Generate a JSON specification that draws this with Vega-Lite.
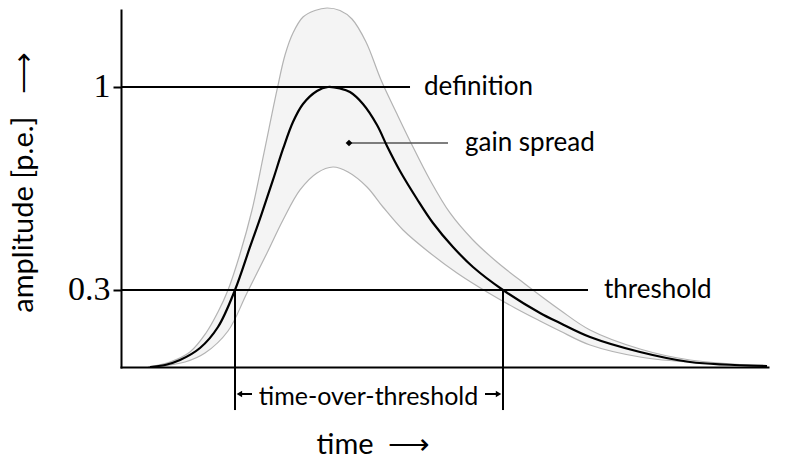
{
  "$schema": "https://vega.github.io/schema/vega-lite/v6.json",
  "width": 647,
  "height": 357,
  "autosize": {"type": "none"},
  "padding": {"left": 121, "top": 10, "right": 19, "bottom": 94},
  "background": "white",
  "config": {"view": {"stroke": null}, "font": "Lato"},
  "datasets": {
    "curves": [
      {"series": "upper", "t": 4.17, "amp": 0},
      {"series": "upper", "t": 7.57, "amp": 0.0234},
      {"series": "upper", "t": 10.66, "amp": 0.0652},
      {"series": "upper", "t": 13.14, "amp": 0.1399},
      {"series": "upper", "t": 14.99, "amp": 0.2191},
      {"series": "upper", "t": 16.54, "amp": 0.3},
      {"series": "upper", "t": 18.39, "amp": 0.429},
      {"series": "upper", "t": 20.25, "amp": 0.5829},
      {"series": "upper", "t": 22.1, "amp": 0.7782},
      {"series": "upper", "t": 24.11, "amp": 0.99},
      {"series": "upper", "t": 25.35, "amp": 1.1062},
      {"series": "upper", "t": 26.58, "amp": 1.1788},
      {"series": "upper", "t": 28.13, "amp": 1.2314},
      {"series": "upper", "t": 29.98, "amp": 1.2527},
      {"series": "upper", "t": 31.84, "amp": 1.2609},
      {"series": "upper", "t": 33.85, "amp": 1.2527},
      {"series": "upper", "t": 35.7, "amp": 1.2248},
      {"series": "upper", "t": 37.87, "amp": 1.1491},
      {"series": "upper", "t": 40.19, "amp": 1.0233},
      {"series": "upper", "t": 42.66, "amp": 0.9097},
      {"series": "upper", "t": 44.98, "amp": 0.8053},
      {"series": "upper", "t": 47.76, "amp": 0.6863},
      {"series": "upper", "t": 50.85, "amp": 0.5726},
      {"series": "upper", "t": 54.4, "amp": 0.4783},
      {"series": "upper", "t": 58.11, "amp": 0.4005},
      {"series": "upper", "t": 62.44, "amp": 0.3217},
      {"series": "upper", "t": 67.85, "amp": 0.2266},
      {"series": "upper", "t": 72.49, "amp": 0.1514},
      {"series": "upper", "t": 80.22, "amp": 0.0773},
      {"series": "upper", "t": 87.94, "amp": 0.032},
      {"series": "upper", "t": 99.85, "amp": 0.0052},
      {"series": "lower", "t": 5.26, "amp": 0},
      {"series": "lower", "t": 9.89, "amp": 0.0234},
      {"series": "lower", "t": 12.98, "amp": 0.0611},
      {"series": "lower", "t": 16.54, "amp": 0.1476},
      {"series": "lower", "t": 19.47, "amp": 0.289},
      {"series": "lower", "t": 22.57, "amp": 0.4325},
      {"series": "lower", "t": 25.04, "amp": 0.5482},
      {"series": "lower", "t": 27.67, "amp": 0.652},
      {"series": "lower", "t": 30.29, "amp": 0.7102},
      {"series": "lower", "t": 32.77, "amp": 0.7306},
      {"series": "lower", "t": 35.09, "amp": 0.7136},
      {"series": "lower", "t": 38.02, "amp": 0.6623},
      {"series": "lower", "t": 40.49, "amp": 0.5933},
      {"series": "lower", "t": 43.59, "amp": 0.5134},
      {"series": "lower", "t": 47.76, "amp": 0.4325},
      {"series": "lower", "t": 51.93, "amp": 0.3612},
      {"series": "lower", "t": 56.57, "amp": 0.2926},
      {"series": "lower", "t": 60.9, "amp": 0.234},
      {"series": "lower", "t": 64.76, "amp": 0.1855},
      {"series": "lower", "t": 67.85, "amp": 0.1476},
      {"series": "lower", "t": 72.49, "amp": 0.0932},
      {"series": "lower", "t": 80.22, "amp": 0.0447},
      {"series": "lower", "t": 89.49, "amp": 0.019},
      {"series": "lower", "t": 99.85, "amp": 0.0052},
      {"series": "middle", "t": 4.48, "amp": 0},
      {"series": "middle", "t": 6.8, "amp": 0.01},
      {"series": "middle", "t": 9.12, "amp": 0.032},
      {"series": "middle", "t": 12.21, "amp": 0.0813},
      {"series": "middle", "t": 14.99, "amp": 0.1628},
      {"series": "middle", "t": 17.62, "amp": 0.3},
      {"series": "middle", "t": 19.94, "amp": 0.4537},
      {"series": "middle", "t": 21.79, "amp": 0.5726},
      {"series": "middle", "t": 23.49, "amp": 0.6863},
      {"series": "middle", "t": 25.04, "amp": 0.7918},
      {"series": "middle", "t": 26.58, "amp": 0.8829},
      {"series": "middle", "t": 28.13, "amp": 0.9433},
      {"series": "middle", "t": 30.29, "amp": 0.9867},
      {"series": "middle", "t": 31.99, "amp": 1.0},
      {"series": "middle", "t": 33.85, "amp": 0.995},
      {"series": "middle", "t": 35.39, "amp": 0.9833},
      {"series": "middle", "t": 37.4, "amp": 0.9433},
      {"series": "middle", "t": 39.57, "amp": 0.8728},
      {"series": "middle", "t": 41.11, "amp": 0.802},
      {"series": "middle", "t": 43.12, "amp": 0.717},
      {"series": "middle", "t": 45.75, "amp": 0.621},
      {"series": "middle", "t": 48.22, "amp": 0.5378},
      {"series": "middle", "t": 51.31, "amp": 0.4537},
      {"series": "middle", "t": 54.4, "amp": 0.3828},
      {"series": "middle", "t": 59.04, "amp": 0.3},
      {"series": "middle", "t": 64.76, "amp": 0.2154},
      {"series": "middle", "t": 67.85, "amp": 0.1778},
      {"series": "middle", "t": 72.49, "amp": 0.1244},
      {"series": "middle", "t": 80.22, "amp": 0.0652},
      {"series": "middle", "t": 87.94, "amp": 0.0234},
      {"series": "middle", "t": 99.85, "amp": 0.0052}
    ],
    "segments": [
      {"name": "definition", "t": 0, "amp": 1, "t2": 44.67, "amp2": 1},
      {"name": "threshold", "t": 0, "amp": 0.3, "t2": 72.18, "amp2": 0.3},
      {"name": "tot-start", "t": 17.62, "amp": 0.3, "t2": 17.62, "amp2": -0.1743},
      {"name": "tot-end", "t": 59.04, "amp": 0.3, "t2": 59.04, "amp2": -0.1743},
      {"name": "tot-arrow-left", "t": 18.2, "amp": -0.1128, "t2": 20.25, "amp2": -0.1128},
      {"name": "tot-arrow-right", "t": 56.26, "amp": -0.1128, "t2": 58.4, "amp2": -0.1128},
      {"name": "gain", "t": 35.24, "amp": 0.812, "t2": 50.54, "amp2": 0.812}
    ],
    "heads": [
      {"dir": "left", "t": 18.3, "amp": -0.1128},
      {"dir": "right", "t": 58.35, "amp": -0.1128}
    ],
    "markers": [
      {"name": "gain spread", "t": 35.24, "amp": 0.812}
    ],
    "labels": [
      {"label": "definition", "kind": "side", "t": 46.83, "amp": 1},
      {"label": "gain spread", "kind": "side", "t": 53.17, "amp": 0.812},
      {"label": "threshold", "kind": "side", "t": 74.65, "amp": 0.3},
      {"label": "time-over-threshold", "kind": "below", "t": 38.25, "amp": -0.1244}
    ]
  },
  "encoding": {
    "x": {
      "field": "t",
      "type": "quantitative",
      "scale": {"domain": [0, 100], "nice": false, "zero": false},
      "axis": {
        "title": "time\u00a0\u00a0⟶",
        "labels": false,
        "ticks": false,
        "grid": false,
        "domainColor": "black",
        "domainWidth": 2,
        "domainCap": "square",
        "titleFont": "Lato",
        "titleFontSize": 29,
        "titleFontWeight": "normal",
        "titleColor": "black",
        "titleX": 252,
        "titleY": 86,
        "titleAlign": "center",
        "titleBaseline": "alphabetic",
        "zindex": 1
      }
    },
    "y": {
      "field": "amp",
      "type": "quantitative",
      "scale": {"type": "pow", "exponent": 1.072, "domain": [0, 1.2543], "nice": false},
      "axis": {
        "values": [0.3, 1],
        "format": "~g",
        "labelFont": "Liberation Serif",
        "labelFontSize": 34,
        "labelColor": "black",
        "labelPadding": 3,
        "tickSize": 8,
        "tickWidth": 2,
        "tickColor": "black",
        "domainColor": "black",
        "domainWidth": 2,
        "domainCap": "square",
        "grid": false,
        "title": "amplitude [p.e.]\u00a0\u00a0\u00a0⟶",
        "titleFont": "Lato",
        "titleFontSize": 29,
        "titleFontWeight": "normal",
        "titleColor": "black",
        "titleAngle": -90,
        "titleX": -98,
        "titleY": 172,
        "titleAlign": "center",
        "titleBaseline": "middle",
        "zindex": 1
      }
    }
  },
  "layer": [
    {
      "data": {"name": "curves"},
      "transform": [{"filter": "datum.series === 'upper'"}],
      "mark": {"type": "area", "interpolate": "catmull-rom", "color": "#efefef", "line": {"color": "#b3b3b3", "strokeWidth": 1.2}}
    },
    {
      "data": {"name": "curves"},
      "transform": [{"filter": "datum.series === 'lower'"}],
      "mark": {"type": "area", "interpolate": "catmull-rom", "color": "white", "opacity": 1, "line": {"color": "#b3b3b3", "strokeWidth": 1.2}}
    },
    {
      "data": {"name": "segments"},
      "transform": [{"filter": "datum.name !== 'gain'"}],
      "mark": {"type": "rule", "color": "black", "strokeWidth": 2},
      "encoding": {"x2": {"field": "t2"}, "y2": {"field": "amp2"}}
    },
    {
      "data": {"name": "segments"},
      "transform": [{"filter": "datum.name === 'gain'"}],
      "mark": {"type": "rule", "color": "#555555", "strokeWidth": 1.5},
      "encoding": {"x2": {"field": "t2"}, "y2": {"field": "amp2"}}
    },
    {
      "data": {"name": "curves"},
      "transform": [{"filter": "datum.series === 'middle'"}],
      "mark": {"type": "line", "interpolate": "catmull-rom", "color": "black", "strokeWidth": 2.2}
    },
    {
      "data": {"name": "markers"},
      "mark": {"type": "point", "shape": "diamond", "filled": true, "color": "black", "opacity": 1, "size": 45}
    },
    {
      "data": {"name": "heads"},
      "mark": {"type": "point", "filled": true, "color": "black", "opacity": 1, "size": 40},
      "encoding": {
        "shape": {"field": "dir", "type": "nominal", "scale": {"domain": ["left", "right"], "range": ["triangle-left", "triangle-right"]}, "legend": null}
      }
    },
    {
      "data": {"name": "labels"},
      "transform": [{"filter": "datum.kind === 'side'"}],
      "mark": {"type": "text", "align": "left", "baseline": "middle", "font": "Lato", "fontSize": 26, "color": "black"},
      "encoding": {"text": {"field": "label"}}
    },
    {
      "data": {"name": "labels"},
      "transform": [{"filter": "datum.kind === 'below'"}],
      "mark": {"type": "text", "align": "center", "baseline": "middle", "font": "Lato", "fontSize": 25, "color": "black"},
      "encoding": {"text": {"field": "label"}}
    }
  ]
}
